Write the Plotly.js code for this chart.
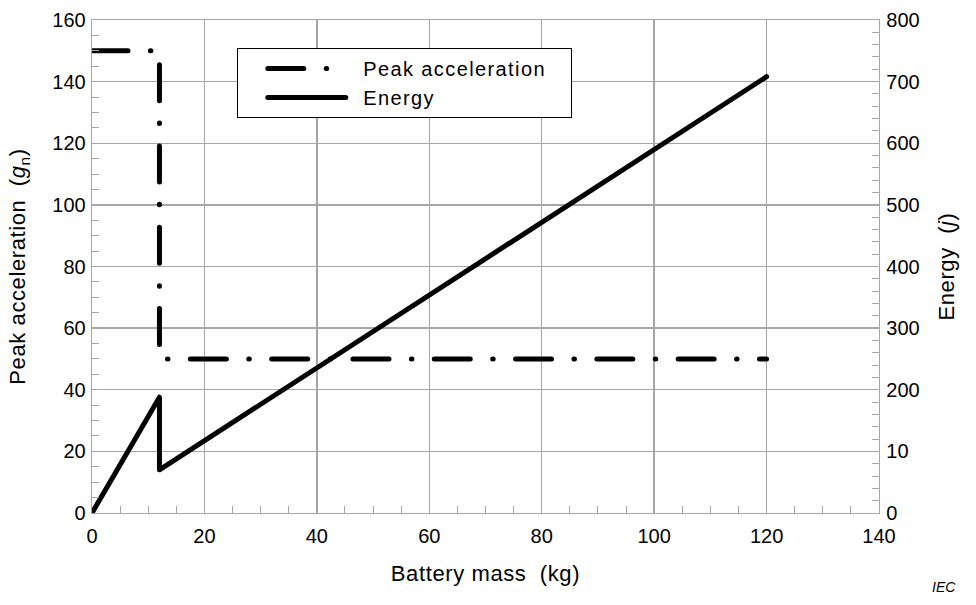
<!DOCTYPE html>
<html>
<head>
<meta charset="utf-8">
<script src="https://cdn.plot.ly/plotly-3.0.1.min.js"></script>
<style>
html,body{margin:0;padding:0;background:#fff;}
#chart{width:976px;height:605px;}
path.js-line{stroke-linecap:round;stroke-linejoin:round;}
text.xtitle,text.ytitle,text.y2title{letter-spacing:0.6px;}
text.legendtext{letter-spacing:1.4px;}
</style>
</head>
<body>
<div id="chart"></div>
<script>
// Data
const massPeak = [0, 12, 12, 120];          // kg
const peakAccel = [150, 150, 50, 50];       // g_n
const massEnergy = [0, 12, 12, 120];        // kg
const energy = [0, 188, 70, 708];           // J

const rightTickVals = [0, 100, 200, 300, 400, 500, 600, 700, 800];
const rightTickText = ["0", "10", "200", "300", "400", "500", "600", "700", "800"];

const FONT = "Liberation Sans, Arial, sans-serif";
const GRID = "#a6a6a6";

const traces = [
  {
    x: massPeak, y: peakAccel, name: "\u00a0\u2009Peak acceleration\u00a0\u00a0\u2009", type: "scatter", mode: "lines",
    line: {color: "#000", width: 5, dash: "36px,22.4px,0.5px,22.4px"}, yaxis: "y"
  },
  {
    x: massEnergy, y: energy, name: "\u00a0\u2009Energy", type: "scatter", mode: "lines",
    line: {color: "#000", width: 5}, yaxis: "y2"
  }
];

const layout = {
  width: 976, height: 605,
  margin: {l: 92, r: 97, t: 20, b: 92},
  paper_bgcolor: "#fff", plot_bgcolor: "#fff",
  font: {family: FONT, size: 20, color: "#000"},
  showlegend: true,
  legend: {
    x: 0.184, y: 0.943, xanchor: "left", yanchor: "top",
    bordercolor: "#000", borderwidth: 1, bgcolor: "#fff",
    font: {family: FONT, size: 20, color: "#000"},
    itemwidth: 78, indentation: 25, tracegroupgap: 0
  },
  xaxis: {
    range: [0, 140], dtick: 20, tick0: 0,
    showgrid: true, gridcolor: GRID, gridwidth: 1.3,
    showline: true, linecolor: GRID, linewidth: 1.3, mirror: true,
    ticks: "inside", ticklen: 7, tickcolor: GRID,
    minor: {dtick: 5, ticks: "inside", ticklen: 7, tickcolor: GRID, showgrid: false},
    zeroline: false, ticklabelstandoff: 5,
    tickfont: {family: FONT, size: 20},
    title: {text: "Battery mass  (kg)", font: {family: FONT, size: 22}, standoff: 19}
  },
  yaxis: {
    range: [0, 160], dtick: 20, tick0: 0,
    showgrid: true, gridcolor: GRID, gridwidth: 1.3,
    showline: true, linecolor: GRID, linewidth: 1.3, mirror: false,
    ticks: "inside", ticklen: 7, tickcolor: GRID,
    minor: {dtick: 5, ticks: "inside", ticklen: 7, tickcolor: GRID, showgrid: false},
    zeroline: false, ticklabelstandoff: 1,
    tickfont: {family: FONT, size: 20},
    title: {text: "Peak acceleration  (<i>g</i><sub>n</sub>)", font: {family: FONT, size: 22}, standoff: 20}
  },
  yaxis2: {
    overlaying: "y", side: "right",
    range: [0, 800], tickmode: "array", tickvals: rightTickVals, ticktext: rightTickText,
    showgrid: false,
    showline: true, linecolor: GRID, linewidth: 1.3,
    ticks: "inside", ticklen: 7, tickcolor: GRID,
    minor: {dtick: 20, ticks: "inside", ticklen: 7, tickcolor: GRID, showgrid: false},
    zeroline: false, ticklabelstandoff: 2,
    tickfont: {family: FONT, size: 20},
    title: {text: "Energy  (<i>j</i>)", font: {family: FONT, size: 22}, standoff: 20}
  },
  annotations: [
    {text: "<i>IEC</i>", xref: "paper", yref: "paper", x: 1.10, y: -0.15,
     xanchor: "right", yanchor: "middle", showarrow: false,
     font: {family: FONT, size: 14, color: "#000"}}
  ]
};

Plotly.newPlot("chart", traces, layout, {displayModeBar: false, staticPlot: true});
</script>
</body>
</html>
